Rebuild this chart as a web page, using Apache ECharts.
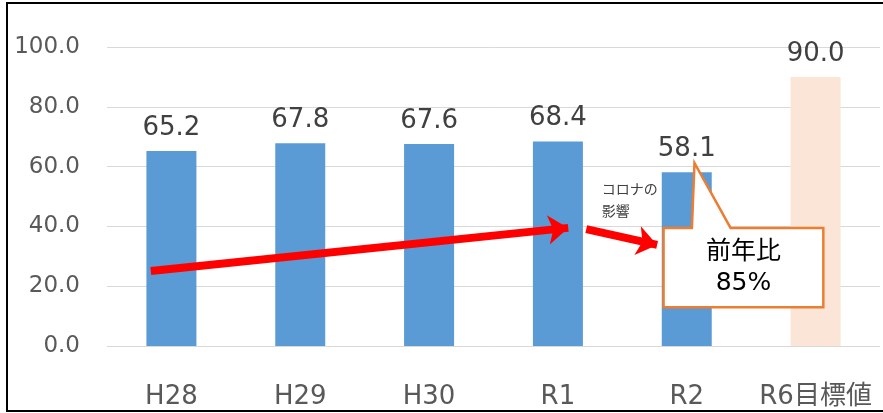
<!DOCTYPE html>
<html>
<head>
<meta charset="utf-8">
<script src="https://cdn.jsdelivr.net/npm/echarts@6/dist/echarts.min.js"></script>
<style>
  html, body { margin: 0; padding: 0; background: #fff; overflow: hidden; }
  #chart { width: 883px; height: 413px; }
  #frame {
    position: absolute; left: 6px; top: 2px; width: 900px; height: 406px;
    border: 2px solid #000; pointer-events: none;
  }
</style>
</head>
<body>
<div id="chart"></div>
<div id="frame"></div>
<script>
// ------------------------------------------------------------
// データ
// ------------------------------------------------------------
var categories = ['H28', 'H29', 'H30', 'R1', 'R2', 'R6目標値'];
var values = [65.2, 67.8, 67.6, 68.4, 58.1, 90.0];
var targetIndex = 5;
var yTicks = [0, 20, 40, 60, 80, 100];

// 注記（x はカテゴリ番号、y は値の空間）
var trendArrow = [[-0.16, 25.1], [3.08, 39.5]];
var coronaArrow = [[3.22, 39.1], [3.77, 33.8]];
var coronaText = { x: 3.34, y: 55.8, text: 'コロナの\n影響' };
var callout = { left: 3.82, right: 5.06, top: 39.5, bottom: 13.0,
  baseLeft: 4.04, baseRight: 4.34, tip: [4.06, 61.2], text: '前年比\n85%' };

var FONT = "'DejaVu Sans', 'Noto Sans CJK JP', sans-serif";
var BLUE = '#5B9BD5';
var PEACH = '#FBE5D6';

var chart = echarts.init(document.getElementById('chart'));

var barData = values.map(function(v, i) {
  return i === targetIndex ? { value: v, itemStyle: { color: PEACH } } : v;
});

function arrowLine(pair) {
  return [{ coord: pair[0], symbol: 'none' }, { coord: pair[1], symbol: 'arrow' }];
}

chart.setOption({
  animation: false,
  grid: { left: 107, right: 3, top: 47, bottom: 67 },
  xAxis: [{
    type: 'category',
    data: categories,
    axisLine: { show: false },
    axisTick: { show: false },
    axisLabel: { interval: 0, color: '#595959', fontSize: 26, fontFamily: FONT, margin: 38 }
  }, {
    type: 'value', min: -0.5, max: 5.5, show: false
  }],
  yAxis: {
    type: 'value',
    min: yTicks[0],
    max: yTicks[yTicks.length - 1],
    interval: 20,
    axisLine: { show: false },
    axisTick: { show: false },
    splitLine: { lineStyle: { color: '#d9d9d9', width: 1 } },
    axisLabel: {
      color: '#595959', fontSize: 23, fontFamily: FONT, margin: 27,
      formatter: function(v) { return v.toFixed(1); }
    }
  },
  series: [{
    type: 'bar',
    data: barData,
    barWidth: 50,
    itemStyle: { color: BLUE },
    label: {
      show: true, position: 'top', distance: 10,
      color: '#404040', fontSize: 26, fontFamily: FONT,
      formatter: function(p) { return p.value.toFixed(1); }
    }
  }, {
    type: 'scatter',
    xAxisIndex: 1,
    data: [],
    markLine: {
      silent: true,
      symbolSize: [22, 20],
      label: { show: false },
      lineStyle: { color: '#FF0000', width: 8, type: 'solid' },
      emphasis: { disabled: true },
      data: [arrowLine(trendArrow), arrowLine(coronaArrow)]
    }
  }]
});

// 注記（吹き出し・テキスト）はデータ空間から座標変換して配置
function px(x, y) {
  return chart.convertToPixel({ xAxisIndex: 1, yAxisIndex: 0 }, [x, y]);
}

var tl = px(callout.left, callout.top);
var br = px(callout.right, callout.bottom);
var bl = px(callout.baseLeft, callout.top);
var brs = px(callout.baseRight, callout.top);
var tip = px(callout.tip[0], callout.tip[1]);
var ct = px(coronaText.x, coronaText.y);

chart.setOption({
  graphic: [{
    type: 'polygon',
    z: 100,
    shape: { points: [tl, bl, tip, brs, [br[0], tl[1]], br, [tl[0], br[1]]] },
    style: { fill: '#fff', stroke: '#ED7D31', lineWidth: 2.5 }
  }, {
    type: 'text',
    z: 101,
    x: (tl[0] + br[0]) / 2,
    y: (tl[1] + br[1]) / 2,
    style: {
      text: callout.text, fill: '#000', font: "25px " + FONT,
      align: 'center', verticalAlign: 'middle', lineHeight: 31
    }
  }, {
    type: 'text',
    z: 101,
    x: ct[0],
    y: ct[1],
    style: {
      text: coronaText.text, fill: '#404040', font: "14px " + FONT,
      align: 'left', verticalAlign: 'top', lineHeight: 22
    }
  }]
});
</script>
</body>
</html>
